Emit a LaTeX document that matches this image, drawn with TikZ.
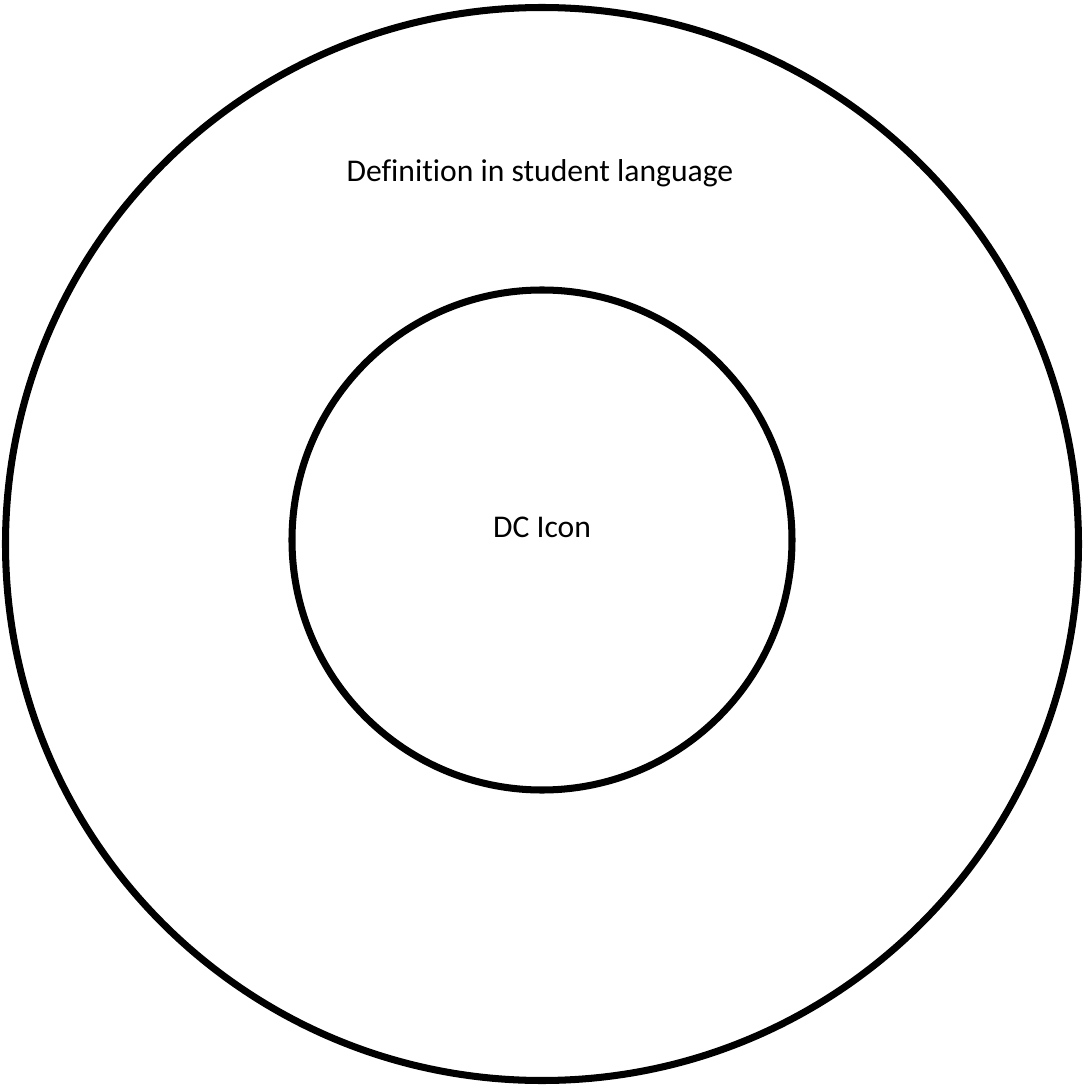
\documentclass[tikz,border=0pt]{standalone}
\usepackage{fontspec}
\setmainfont{Carlito}[Ligatures=NoCommon]
\usetikzlibrary{positioning}
\tikzset{
ring/.style={draw,circle,line width=2pt,inner sep=0pt},
label/.style={align=center,font=\fontsize{9}{11}\selectfont}
}
\begin{document}
\begin{tikzpicture}
\useasboundingbox (0,0) rectangle (10.83,10.87);
\node[ring,minimum size=10.73cm] (outer) at (5.42,5.43) {};
\node[ring,minimum size=5cm] (inner) at (5.42,5.47) {};
\node[label] (icon) at (5.42,5.60) {DC Icon};
\node[label] (def) at (5.40,9.14) {Definition in student language};
\end{tikzpicture}
\end{document}
